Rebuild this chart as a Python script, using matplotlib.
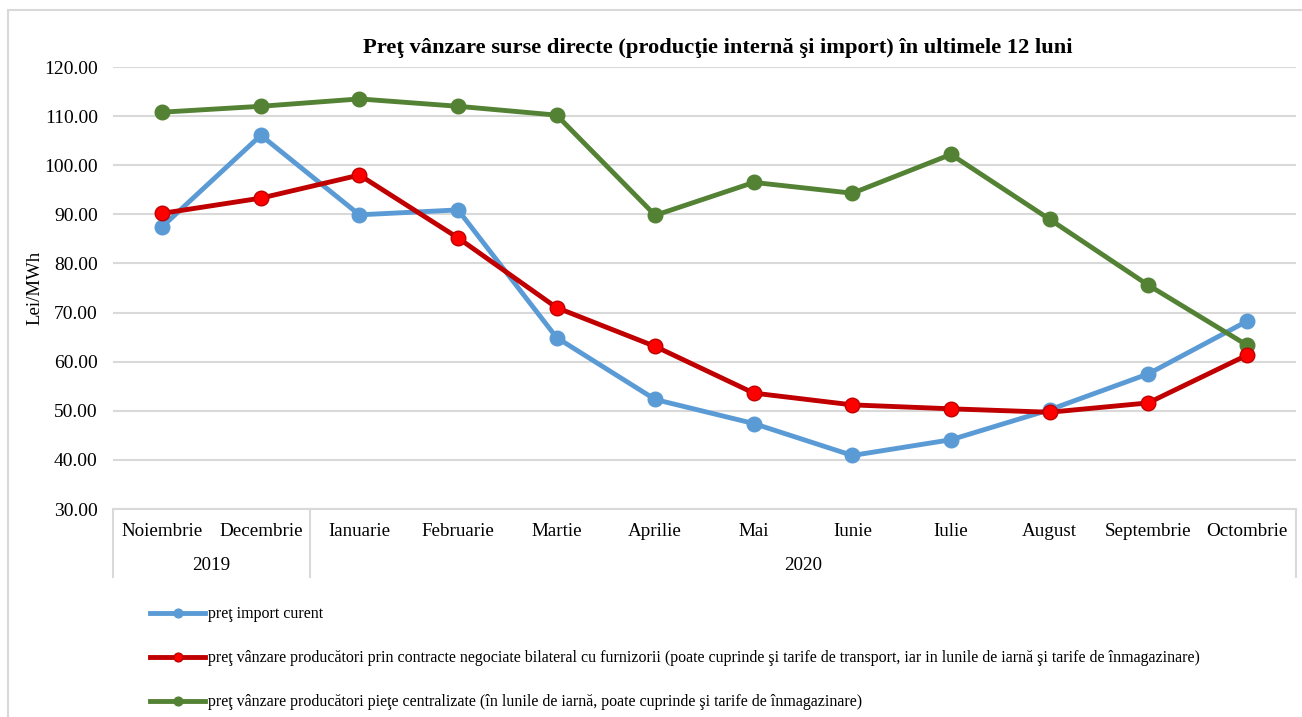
import matplotlib.pyplot as plt
from matplotlib.patches import Rectangle
from matplotlib.lines import Line2D

plt.rcParams['font.family'] = ['Liberation Serif', 'DejaVu Serif']

months = ['Noiembrie', 'Decembrie', 'Ianuarie', 'Februarie', 'Martie', 'Aprilie',
          'Mai', 'Iunie', 'Iulie', 'August', 'Septembrie', 'Octombrie']
years = ['2019', '2020']
year_spans = [(0, 1), (2, 11)]

import_curent = [87.5, 106.1, 89.9, 90.9, 64.9, 52.3, 47.4, 40.9, 44.1, 50.2, 57.5, 68.2]
bilateral = [90.2, 93.3, 98.0, 85.2, 71.0, 63.1, 53.6, 51.2, 50.4, 49.7, 51.6, 61.3]
centralizate = [110.8, 112.0, 113.5, 112.0, 110.2, 89.8, 96.5, 94.3, 102.2, 89.0, 75.6, 63.4]

labels = ['preţ import curent',
          'preţ vânzare producători prin contracte negociate bilateral cu furnizorii '
          '(poate cuprinde şi tarife de transport, iar in lunile de iarnă şi tarife de înmagazinare)',
          'preţ vânzare producători pieţe centralizate (în lunile de iarnă, poate cuprinde '
          'şi tarife de înmagazinare)']

W, H = 1302, 717
fig = plt.figure(figsize=(W / 100, H / 100), dpi=100)
grey = '#D9D9D9'

# outer chart border
fig.patches.append(Rectangle((8 / W, -0.01), 1.0, 1 - 9.5 / H + 0.01, transform=fig.transFigure,
                             fill=False, edgecolor=grey, linewidth=1.5))

ax = fig.add_axes([113 / W, 1 - 509 / H, (1296 - 113) / W, (509 - 67) / H])
x = list(range(len(months)))

ax.plot(x, import_curent, color='#5B9BD5', lw=3.5, marker='o', ms=10.5, mfc='#5B9BD5',
        mec='#5B9BD5', label=labels[0], zorder=3)
ax.plot(x, bilateral, color='#C00000', lw=3.5, marker='o', ms=10.5, mfc='#FF0000',
        mec='#C00000', label=labels[1], zorder=4)
ax.plot(x, centralizate, color='#548235', lw=3.5, marker='o', ms=10.5, mfc='#548235',
        mec='#548235', label=labels[2], zorder=3)

ax.set_xlim(-0.5, 11.5)
ax.set_ylim(30, 120)
ax.set_yticks(range(30, 121, 10))
ax.set_yticklabels(['%.2f' % v for v in range(30, 121, 10)], fontsize=14)
ax.tick_params(axis='y', length=0, pad=11)
ax.set_xticks([])
ax.yaxis.grid(True, color=grey, lw=1.5)
ax.set_axisbelow(True)
for s in ['top', 'right', 'left']:
    ax.spines[s].set_visible(False)
ax.spines['bottom'].set_color(grey)
ax.spines['bottom'].set_linewidth(1.5)

ax.set_ylabel('Lei/MWh', fontsize=13.5)
ax.yaxis.set_label_coords(-0.059, 0.5)

ax.set_title('Preţ vânzare surse directe (producţie internă şi import) în ultimele 12 luni',
             fontsize=16.2, fontweight='bold', pad=10, x=0.511)

# two-level category axis
tr = ax.get_xaxis_transform()
for i, m in enumerate(months):
    ax.text(i, -0.05, m, transform=tr, ha='center', va='center', fontsize=13.7)
for yr, (a, b) in zip(years, year_spans):
    ax.text((a + b) / 2, -0.128, yr, transform=tr, ha='center', va='center', fontsize=13.7)
for xs in [-0.5, 1.5, 11.5]:
    ax.add_line(Line2D([xs, xs], [0, -0.154], transform=tr, color=grey, lw=1.5, clip_on=False))

leg = fig.legend(loc='upper left', bbox_to_anchor=(136 / W, 1 - 592 / H), frameon=False,
                 fontsize=11.5, handlelength=3.4, handletextpad=0.2, labelspacing=1.75,
                 markerscale=0.6)

fig.savefig('out.png', dpi=100)
